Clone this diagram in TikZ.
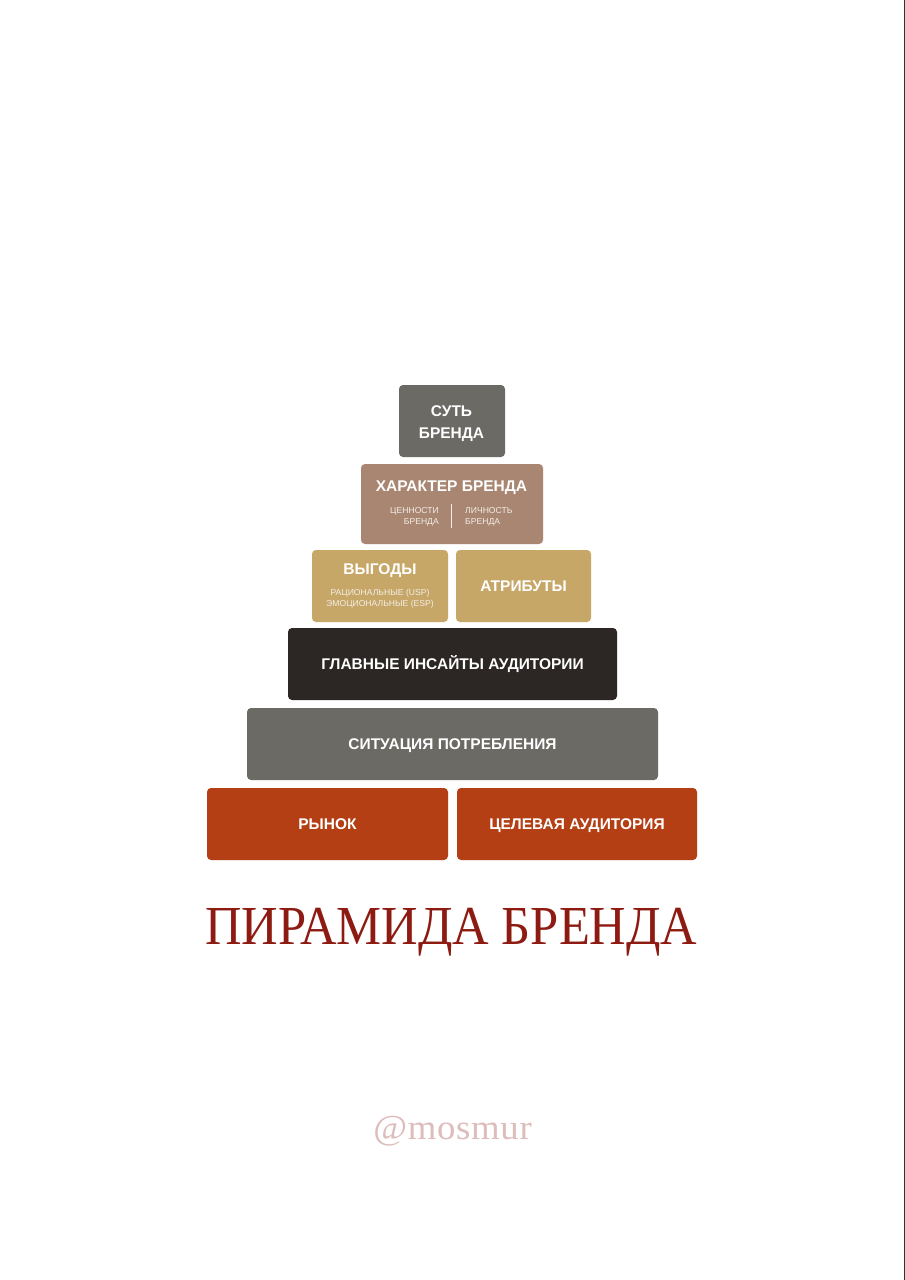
\documentclass[tikz,border=0pt]{standalone}
\usepackage{fontspec}
\setmainfont{Liberation Sans}
\newfontfamily\titlefont[FakeStretch=0.92]{Liberation Serif}
\newfontfamily\handlefont[LetterSpace=2.0,FakeStretch=1.05]{Liberation Serif}
\definecolor{greybox}{HTML}{6B6A65}
\definecolor{tanbox}{HTML}{A98672}
\definecolor{goldbox}{HTML}{C6A768}
\definecolor{darkbox}{HTML}{2C2724}
\definecolor{redbox}{HTML}{B43F14}
\definecolor{titlered}{HTML}{8E1B12}
\definecolor{handlepink}{HTML}{DDBDBC}
\definecolor{edgeline}{HTML}{333333}
\definecolor{softwhite}{HTML}{F3EDE6}
\tikzset{
  x=1pt,y=-1pt,
  brick/.style={rectangle,rounded corners=4pt,inner sep=0pt,text=white,align=center,text height=11pt,text depth=0pt,font=\bfseries\fontsize{15.5}{22}\selectfont},
  headtext/.style={inner sep=0pt,text=white,align=center,font=\bfseries\fontsize{15.5}{22}\selectfont},
  small/.style={inner sep=0pt,text=softwhite,font=\fontsize{8.6}{11.5}\selectfont},
}
\begin{document}
\begin{tikzpicture}
\useasboundingbox (0,0) rectangle (905,1280);
\fill[white] (0,0) rectangle (905,1280);
\fill[edgeline] (903.5,0) rectangle (905,1280);
\node[brick,fill=greybox,minimum width=106pt,minimum height=72pt] (sut) at (452,421) {};
\node[headtext] (sutt) at (451.5,423.5) {СУТЬ\\БРЕНДА};
\node[brick,fill=tanbox,minimum width=182pt,minimum height=80pt] (har) at (452,504) {};
\node[headtext] (hart) at (451.5,488) {ХАРАКТЕР БРЕНДА};
\node[small,align=right,anchor=east] (val) at (439,517) {ЦЕННОСТИ\\БРЕНДА};
\node[small,align=left,anchor=west] (lich) at (465,517) {ЛИЧНОСТЬ\\БРЕНДА};
\coordinate (da) at (451.5,504);
\coordinate (db) at (451.5,528);
\draw[softwhite,line width=1pt] (da) -- (db);
\node[brick,fill=goldbox,minimum width=136pt,minimum height=72pt] (vyg) at (380,586) {};
\node[headtext] (vygt) at (380,571) {ВЫГОДЫ};
\node[small,align=center,anchor=center] (vygs) at (380,599) {РАЦИОНАЛЬНЫЕ (USP)\\ЭМОЦИОНАЛЬНЫЕ (ESP)};
\node[brick,fill=goldbox,minimum width=135pt,minimum height=72pt] (atr) at (523.5,586) {АТРИБУТЫ};
\node[brick,fill=darkbox,minimum width=329pt,minimum height=72pt] (ins) at (452.5,664) {ГЛАВНЫЕ ИНСАЙТЫ АУДИТОРИИ};
\node[brick,fill=greybox,minimum width=411pt,minimum height=72pt] (sit) at (452.5,744) {СИТУАЦИЯ ПОТРЕБЛЕНИЯ};
\node[brick,fill=redbox,minimum width=241pt,minimum height=72pt] (ryn) at (327.5,824) {РЫНОК};
\node[brick,fill=redbox,minimum width=240pt,minimum height=72pt] (cel) at (577,824) {ЦЕЛЕВАЯ АУДИТОРИЯ};
\node[inner sep=0pt,anchor=base,text=titlered,font=\titlefont\fontsize{55}{60}\selectfont] (title) at (451.5,944) {ПИРАМИДА БРЕНДА};
\node[inner sep=0pt,anchor=base,text=handlepink,font=\handlefont\fontsize{35}{40}\selectfont] (handle) at (452.5,1139) {@mosmur};
\end{tikzpicture}
\end{document}
